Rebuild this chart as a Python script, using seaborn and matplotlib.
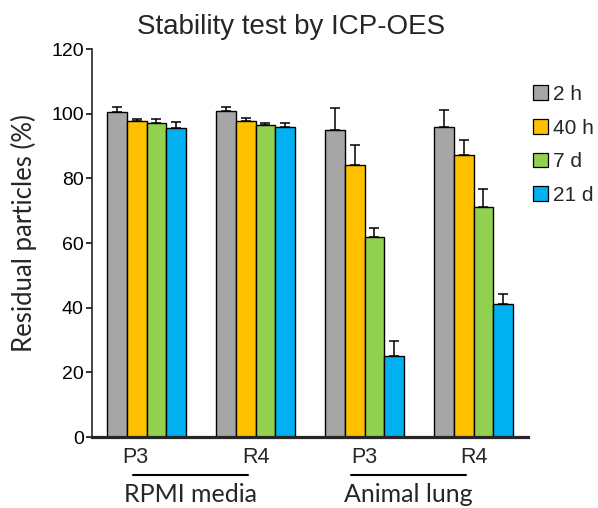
import matplotlib
matplotlib.use("Agg")
import matplotlib.pyplot as plt
import matplotlib.transforms as mtransforms
from matplotlib.patches import Patch
import seaborn as sns
import pandas as pd
import numpy as np

# ---- data ----
groups = ["RPMI P3", "RPMI R4", "Lung P3", "Lung R4"]
tick_labels = ["P3", "R4", "P3", "R4"]
times = ["2 h", "40 h", "7 d", "21 d"]
values_2h = [100.4, 100.9, 94.9, 96.0]
values_40h = [97.6, 97.8, 84.1, 87.2]
values_7d = [97.2, 96.5, 61.9, 71.0]
values_21d = [95.7, 95.8, 25.1, 41.1]
err_2h = [1.6, 1.2, 6.7, 5.1]
err_40h = [0.9, 1.0, 6.1, 4.6]
err_7d = [1.3, 0.7, 2.8, 5.7]
err_21d = [1.7, 1.3, 4.5, 3.2]
media_labels = ["RPMI media", "Animal lung"]
colors = ["#A6A6A6", "#FFC000", "#92D050", "#00B0F0"]
title = "Stability test by ICP-OES"
ylabel = "Residual particles (%)"
yticks = [0, 20, 40, 60, 80, 100, 120]

vals = [values_2h, values_40h, values_7d, values_21d]
errs = [err_2h, err_40h, err_7d, err_21d]
df = pd.DataFrame({
    "group": [g for t in times for g in groups],
    "time": [t for t in times for g in groups],
    "value": [v for vs in vals for v in vs],
})

sns.set_style("ticks")
plt.rcParams["font.family"] = ["Liberation Sans", "DejaVu Sans"]

fig = plt.figure(figsize=(5.98, 5.08), dpi=100)
ax = fig.add_axes([92 / 598, 1 - 437 / 508, 436 / 598, 388 / 508])

sns.barplot(data=df, x="group", y="value", hue="time", order=groups,
            hue_order=times, palette=colors, width=0.73, errorbar=None,
            edgecolor="black", linewidth=1.0, saturation=1, ax=ax, legend=False)

for cont, e in zip(ax.containers, errs):
    xs = [b.get_x() + b.get_width() / 2 for b in cont]
    hs = [b.get_height() for b in cont]
    ax.errorbar(xs, hs, yerr=[np.zeros(len(e)), e], fmt="none", ecolor="black",
                elinewidth=1.1, capsize=3.5, capthick=1.1, zorder=1)

ax.set_ylim(0, 120)
ax.set_xlim(-0.5, 3.5)
ax.set_yticks(yticks)
ax.set_xticks(range(len(groups)))
ax.set_xticklabels(tick_labels)
ax.tick_params(axis="y", labelsize=14, length=4, width=1.1, pad=2, colors="black")
ax.tick_params(axis="x", labelsize=15.5, length=0, pad=7)
# shift first tick label slightly left as in reference
lbl = ax.get_xticklabels()[0]
lbl.set_transform(lbl.get_transform() + mtransforms.ScaledTranslation(-11 / 100, 0, fig.dpi_scale_trans))

sns.despine(ax=ax)
ax.spines["left"].set_linewidth(1.2)
ax.spines["bottom"].set_linewidth(2.3)
ax.set_xlabel("")
ax.set_ylabel(ylabel, fontsize=18.5, family=["Lato", "DejaVu Sans"])
ax.yaxis.set_label_coords(-0.127, 0.526)
ax.set_title(title, fontsize=20, x=0.4576, pad=11)

# group underlines and labels
tr = mtransforms.blended_transform_factory(ax.transData, ax.transAxes)
for i, name in enumerate(media_labels):
    a, b = 2 * i, 2 * i + 1
    ax.plot([a - 0.12, b - 0.07], [-0.098, -0.098], color="black", lw=1.5,
            transform=tr, clip_on=False)
    ax.text((a + b) / 2 - 0.1, -0.168, name, transform=tr,
            ha="center", va="baseline", fontsize=18, family=["Lato", "DejaVu Sans"])

handles = [Patch(facecolor=c, edgecolor="black", linewidth=0.9, label=t)
           for c, t in zip(colors, times)]
fig.legend(handles=handles, loc="upper left", bbox_to_anchor=(533 / 598, 1 - 85 / 508),
           frameon=False, fontsize=15, handlelength=0.7, handleheight=0.7,
           handletextpad=0.25, labelspacing=0.7, borderaxespad=0, borderpad=0)

fig.savefig("out.png", dpi=100)
